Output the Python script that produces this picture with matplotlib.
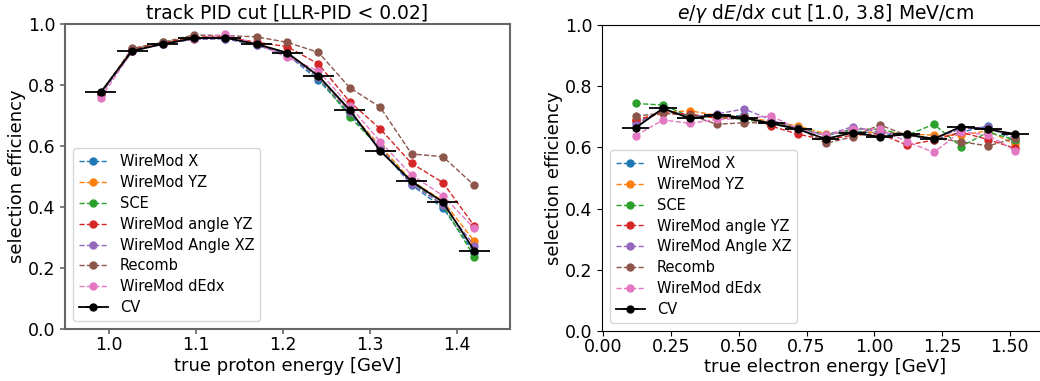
import matplotlib
matplotlib.use("Agg")
import matplotlib.pyplot as plt

# left panel: track PID cut, vs true proton energy
proton_e = [0.991, 1.027, 1.062, 1.098, 1.134, 1.170, 1.205, 1.241, 1.277, 1.312, 1.348, 1.384, 1.420]
proton_halfwidth = 0.0178
pid_cv = [0.776, 0.912, 0.934, 0.953, 0.955, 0.934, 0.906, 0.830, 0.718, 0.584, 0.484, 0.416, 0.257]
pid_var = {
    "WireMod X":          [0.770, 0.910, 0.936, 0.950, 0.952, 0.930, 0.900, 0.816, 0.705, 0.590, 0.472, 0.397, 0.250],
    "WireMod YZ":         [0.772, 0.915, 0.938, 0.952, 0.955, 0.936, 0.904, 0.828, 0.712, 0.600, 0.486, 0.420, 0.288],
    "SCE":                [0.775, 0.916, 0.940, 0.955, 0.955, 0.935, 0.902, 0.825, 0.696, 0.592, 0.482, 0.405, 0.237],
    "WireMod angle YZ":   [0.774, 0.918, 0.938, 0.958, 0.958, 0.940, 0.926, 0.869, 0.745, 0.656, 0.543, 0.480, 0.338],
    "WireMod Angle XZ":   [0.770, 0.912, 0.935, 0.950, 0.952, 0.932, 0.900, 0.826, 0.710, 0.594, 0.475, 0.408, 0.273],
    "Recomb":             [0.770, 0.920, 0.940, 0.964, 0.962, 0.958, 0.940, 0.907, 0.791, 0.727, 0.574, 0.565, 0.471],
    "WireMod dEdx":       [0.757, 0.910, 0.935, 0.952, 0.966, 0.935, 0.891, 0.846, 0.731, 0.614, 0.505, 0.437, 0.330],
}

# right panel: e/gamma dE/dx cut, vs true electron energy
electron_e = [0.12, 0.22, 0.32, 0.42, 0.52, 0.62, 0.72, 0.82, 0.92, 1.02, 1.12, 1.22, 1.32, 1.42, 1.52]
electron_halfwidth = 0.05
dedx_cv = [0.665, 0.728, 0.695, 0.706, 0.697, 0.679, 0.659, 0.628, 0.648, 0.635, 0.643, 0.628, 0.668, 0.659, 0.644]
dedx_var = {
    "WireMod X":        [0.682, 0.720, 0.705, 0.700, 0.705, 0.675, 0.665, 0.640, 0.655, 0.645, 0.640, 0.625, 0.650, 0.670, 0.619],
    "WireMod YZ":       [0.690, 0.715, 0.720, 0.705, 0.700, 0.685, 0.670, 0.645, 0.650, 0.650, 0.645, 0.640, 0.640, 0.655, 0.610],
    "SCE":              [0.744, 0.739, 0.701, 0.700, 0.690, 0.680, 0.665, 0.640, 0.660, 0.660, 0.640, 0.676, 0.603, 0.650, 0.625],
    "WireMod angle YZ": [0.690, 0.712, 0.710, 0.695, 0.700, 0.670, 0.643, 0.625, 0.640, 0.645, 0.608, 0.624, 0.650, 0.626, 0.597],
    "WireMod Angle XZ": [0.675, 0.725, 0.700, 0.710, 0.726, 0.690, 0.660, 0.640, 0.668, 0.650, 0.640, 0.630, 0.660, 0.668, 0.630],
    "Recomb":           [0.703, 0.712, 0.705, 0.676, 0.681, 0.680, 0.665, 0.613, 0.635, 0.674, 0.640, 0.630, 0.619, 0.605, 0.630],
    "WireMod dEdx":     [0.639, 0.690, 0.679, 0.692, 0.695, 0.703, 0.660, 0.640, 0.660, 0.660, 0.619, 0.584, 0.652, 0.640, 0.590],
}

colors = ["tab:blue", "tab:orange", "tab:green", "tab:red", "tab:purple", "tab:brown", "tab:pink"]


def draw(ax, x, var, cv, xhw, title, xlabel):
    for c, (name, vals) in zip(colors, var.items()):
        ax.plot(x, vals, "--o", color=c, lw=1.0, ms=5, label=name)
    ax.errorbar(x, cv, xerr=xhw, fmt="-o", color="k", lw=1.3, ms=5,
                elinewidth=1.3, capsize=0, label="CV")
    ax.set_ylim(0, 1)
    ax.set_yticks([0, 0.2, 0.4, 0.6, 0.8, 1.0])
    ax.set_title(title, fontsize=13.5, pad=4)
    ax.set_xlabel(xlabel, fontsize=13, labelpad=2)
    ax.set_ylabel("selection efficiency", fontsize=13, labelpad=1)
    ax.tick_params(labelsize=12.5)
    ax.tick_params(axis="x", pad=1.5)
    ax.legend(loc="lower left", fontsize=10.5, borderaxespad=0.55, labelspacing=0.4)


fig = plt.figure(figsize=(10.4, 3.81), dpi=100)
ax1 = fig.add_axes([65 / 1040, 52 / 381, 445 / 1040, 305 / 381])
ax2 = fig.add_axes([602 / 1040, 50.3 / 381, 447 / 1040, 305.4 / 381])

draw(ax1, proton_e, pid_var, pid_cv, proton_halfwidth,
     "track PID cut [LLR-PID < 0.02]", "true proton energy [GeV]")
draw(ax2, electron_e, dedx_var, dedx_cv, electron_halfwidth,
     r"$e/\gamma$ d$E$/d$x$ cut [1.0, 3.8] MeV/cm", "true electron energy [GeV]")

for s in ax1.spines.values():
    s.set_color("#666666")
    s.set_linewidth(1.5)
ax1.tick_params(color="#666666", width=1.2)

fig.savefig("out.png", dpi=100)
